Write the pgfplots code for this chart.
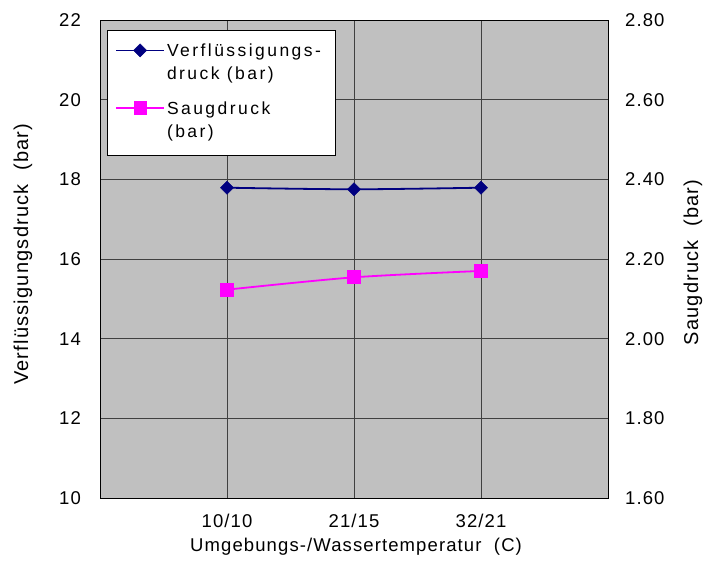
\documentclass[border=0pt]{standalone}
\usepackage{fontspec}
\setmainfont{Liberation Sans}[LetterSpace=6]
\newfontfamily\legfont{Liberation Sans}[LetterSpace=14]
\usepackage{pgfplots}
\pgfplotsset{compat=1.18}
\definecolor{bggray}{HTML}{C0C0C0}
\definecolor{navyc}{HTML}{000080}
\definecolor{magc}{HTML}{FF00FF}
\pgfplotstableread{
x p
1 17.79
2 17.75
3 17.79
}\verfl
\pgfplotstableread{
x p
1 2.123
2 2.154
3 2.170
}\saug
\begin{document}
\begin{tikzpicture}[font=\fontsize{18.5bp}{23bp}\selectfont]
\path[use as bounding box] (0bp,0bp) rectangle (707bp,565bp);
\begin{axis}[
  at={(100bp,67bp)}, anchor=south west,
  width=508bp, height=478bp, scale only axis,
  xmin=0, xmax=4, ymin=10, ymax=22,
  xtick={1,2,3}, xticklabels={10/10,21/15,32/21},
  ytick={10,12,...,22},
  xtick pos=bottom, ytick pos=left,
  major tick length=0pt,
  axis background/.style={fill=bggray},
  grid=major,
  major grid style={draw=black!75, line width=0.7bp},
  axis line style={line width=0.8bp},
  /pgf/number format/assume math mode=true,
  xticklabel style={anchor=center, inner sep=0pt, yshift=-23bp},
  yticklabel style={anchor=east, inner sep=0pt, xshift=-19bp},
  xlabel={Umgebungs-/Wassertemperatur\ \ (C)},
  ylabel={Verflüssigungsdruck\ \ (bar)},
  xlabel style={at={(axis description cs:0.504,-0.1025)}, anchor=center, inner sep=0pt},
  ylabel style={at={(axis description cs:-0.1516,0.51)}, anchor=center, inner sep=0pt, font=\fontsize{20bp}{24bp}\selectfont},
  legend cell align=left,
  legend image code/.code={\draw[mark repeat=2,mark phase=2,yshift=6.5bp,#1,line width=1.8bp] plot coordinates {(0bp,0bp) (24bp,0bp) (48bp,0bp)};},
  legend style={at={(axis description cs:0.0138,0.979)}, anchor=north west,
     fill=white, draw=black, row sep=14bp, inner xsep=8bp, inner ysep=12bp,
     cells={anchor=base west},
     nodes={inner sep=2bp, text depth=}, font=\legfont\fontsize{17.5bp}{23bp}\selectfont},
]
\addplot[navyc, line width=1.8bp, smooth, mark=square*, mark size=4.6bp, mark options={rotate=45, fill=navyc, draw=navyc, line width=0.5bp}] table[x=x,y=p] {\verfl};
\addlegendentry{\parbox[t]{158bp}{\raggedright Verflüssigungs-\\druck (bar)}}
\addlegendimage{magc, line width=1.8bp, mark=square*, mark size=6.2bp, mark options={fill=magc, draw=magc, line width=0.5bp}}
\addlegendentry{\parbox[t]{158bp}{\raggedright Saugdruck\\(bar)}}
\end{axis}
\begin{axis}[
  at={(100bp,67bp)}, anchor=south west,
  width=508bp, height=478bp, scale only axis,
  xmin=0, xmax=4, ymin=1.6, ymax=2.8,
  ytick={1.6,1.8,...,2.8},
  axis x line=none, axis y line*=right,
  major tick length=0pt,
  axis line style={line width=0.8bp},
  /pgf/number format/assume math mode=true,
  yticklabel style={anchor=west, inner sep=0pt, xshift=17bp, /pgf/number format/.cd, fixed, fixed zerofill, precision=2},
  ylabel={Saugdruck\ \ (bar)},
  ylabel style={at={(axis description cs:1.167,0.493)}, anchor=center, inner sep=0pt, font=\fontsize{20bp}{24bp}\selectfont},
]
\addplot[magc, line width=1.8bp, smooth, mark=square*, mark size=6.2bp, mark options={fill=magc, draw=magc}] table[x=x,y=p] {\saug};
\end{axis}
\end{tikzpicture}
\end{document}
